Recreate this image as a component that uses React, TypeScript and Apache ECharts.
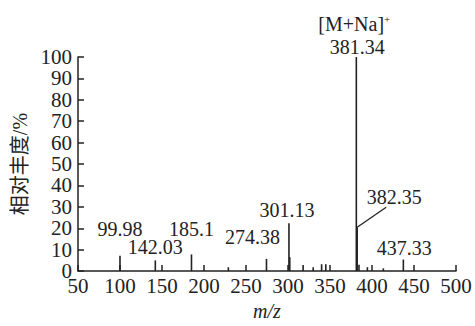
import React, { useEffect, useRef } from "react";
import * as echarts from "echarts";

// m/z values of the peaks and their relative abundance (%)
const peakMz = [99.98, 142.03, 185.1, 229, 274.38, 301.13, 302.1, 318, 330, 340, 345, 381.34, 382.35, 384.5, 394.5, 413.5, 437.33];
const peakIntensity = [7.2, 5, 7.8, 1.8, 5.7, 22.3, 6.5, 2.8, 1.8, 3.2, 3.2, 100, 20.5, 3, 1.8, 1.3, 5.4];

// annotated peaks
const labelMz = [99.98, 142.03, 185.1, 274.38, 301.13, 382.35, 437.33, 381.34];
const labelText = ["99.98", "142.03", "185.1", "274.38", "301.13", "382.35", "437.33", "381.34"];

// axis ticks
const xMin = 50;
const xMax = 500;
const xStep = 50;
const yMin = 0;
const yMax = 100;
const yStep = 10;

const xName = "m/z";
const yName = "相对丰度/%";
const ionTitle = "[M+Na]";
const ionCharge = "+";

// label placement offsets (pixels, relative to peak top) — style only
const labelOffsets: number[][] = [
  [0, -27],
  [0, -13],
  [0, -25],
  [-14, -21.5],
  [-2, -13],
  [37, -30],
  [1, -11.5],
  [1, -10.5],
];
const leaderLines: (number[] | null)[] = [null, null, null, null, null, [29, -20], null, null];

const FONT = "Liberation Serif";
const INK = "#222";
const CSS = `#root svg text { font-family: 'Liberation Serif', 'Noto Sans CJK SC', serif !important; }`;

export default function App() {
  const ref = useRef<HTMLDivElement>(null);
  useEffect(() => {
    document.body.style.margin = "0";
    if (!ref.current) return;
    const chart = echarts.init(ref.current, null, { renderer: "svg" });
    const peakData = peakMz.map((m, i) => [m, peakIntensity[i]]);
    const labelData = labelMz.map((m) => [m, peakIntensity[peakMz.indexOf(m)]]);
    chart.setOption({
      animation: false,
      backgroundColor: "#fff",
      textStyle: { fontFamily: FONT },
      grid: { left: 78, right: 19, top: 57, bottom: 43 },
      xAxis: {
        type: "value",
        min: xMin,
        max: xMax,
        interval: xStep,
        name: xName,
        nameLocation: "middle",
        nameGap: 26,
        nameTextStyle: { fontFamily: FONT, fontSize: 20, fontStyle: "italic", color: INK },
        axisLine: { lineStyle: { color: INK, width: 1.5 } },
        axisTick: { inside: true, length: 6, lineStyle: { color: INK, width: 1.5 } },
        axisLabel: { fontFamily: FONT, fontSize: 21, color: INK, margin: 4 },
        splitLine: { show: false },
      },
      yAxis: {
        type: "value",
        min: yMin,
        max: yMax,
        interval: yStep,
        name: yName,
        nameLocation: "middle",
        nameGap: 43,
        nameTextStyle: { fontFamily: FONT, fontSize: 20, color: INK },
        axisLine: { show: true, lineStyle: { color: INK, width: 1.5 } },
        axisTick: { show: true, inside: true, length: 6, lineStyle: { color: INK, width: 1.5 } },
        axisLabel: { fontFamily: FONT, fontSize: 21, color: INK, margin: 6, lineHeight: 20 },
        splitLine: { show: false },
      },
      series: [
        {
          type: "custom",
          coordinateSystem: "cartesian2d",
          data: peakData,
          encode: { x: 0, y: 1 },
          renderItem: (params: any, api: any) => {
            const top = api.coord([api.value(0), api.value(1)]);
            const base = api.coord([api.value(0), 0]);
            return {
              type: "line",
              shape: { x1: top[0], y1: top[1], x2: base[0], y2: base[1] },
              style: { stroke: INK, lineWidth: 1.6 },
            };
          },
        },
        {
          type: "custom",
          coordinateSystem: "cartesian2d",
          data: labelData,
          encode: { x: 0, y: 1 },
          clip: false,
          renderItem: (params: any, api: any) => {
            const i = params.dataIndex;
            const p = api.coord([api.value(0), api.value(1)]);
            const o = labelOffsets[i];
            const children: any[] = [
              {
                type: "text",
                x: p[0] + o[0],
                y: p[1] + o[1],
                style: {
                  text: labelText[i],
                  fontFamily: FONT,
                  fontSize: 20,
                  fill: INK,
                  align: "center",
                  verticalAlign: "middle",
                },
              },
            ];
            const l = leaderLines[i];
            if (l) {
              children.push({
                type: "line",
                shape: { x1: p[0], y1: p[1], x2: p[0] + l[0], y2: p[1] + l[1] },
                style: { stroke: INK, lineWidth: 1.3 },
              });
            }
            if (labelText[i] === "381.34") {
              children.push({
                type: "text",
                x: p[0] - 2,
                y: p[1] - 33,
                style: {
                  text: ionTitle + "{sup|" + ionCharge + "}",
                  fontFamily: FONT,
                  fontSize: 20,
                  lineHeight: 22,
                  fill: INK,
                  align: "center",
                  verticalAlign: "middle",
                  rich: {
                    sup: { fontFamily: FONT, fontSize: 11, lineHeight: 22, verticalAlign: "top", padding: [0, 0, 10, 0], fill: INK },
                  },
                },
              });
            }
            return { type: "group", children };
          },
        },
      ],
    });
    return () => chart.dispose();
  }, []);
  return (
    <>
      <style>{CSS}</style>
      <div ref={ref} style={{ width: 475, height: 326 }} />
    </>
  );
}
